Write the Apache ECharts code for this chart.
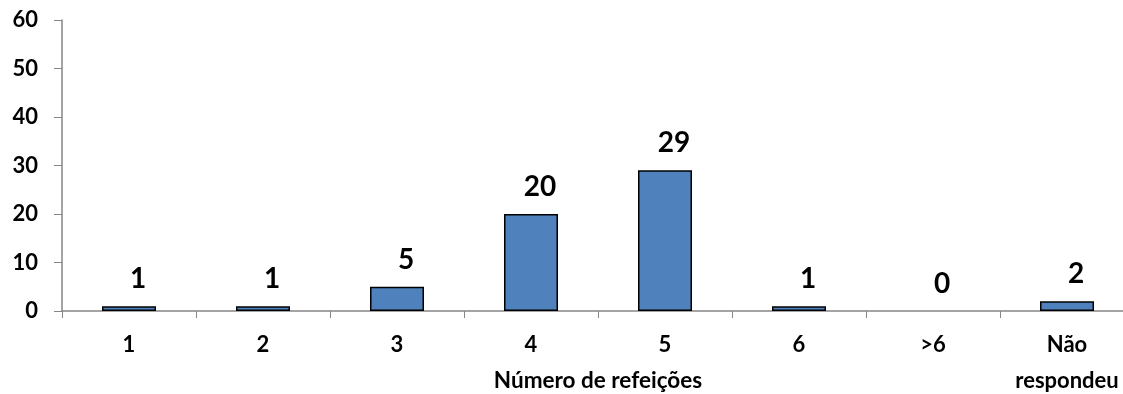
<!DOCTYPE html>
<html>
<head>
<meta charset="utf-8">
<script src="https://cdn.jsdelivr.net/npm/echarts@6/dist/echarts.min.js"></script>
<style>
  html, body { margin: 0; padding: 0; background: #fff; }
  #chart { width: 1123px; height: 394px; }
</style>
</head>
<body>
<div id="chart"></div>
<script>
// data
const categories = ["1", "2", "3", "4", "5", "6", ">6", "Não\nrespondeu"];
const counts = [1, 1, 5, 20, 29, 1, 0, 2];
const yTicks = { min: 0, max: 60, interval: 10 };
const xTitle = "Número de refeições";

const font = "Lato, 'Open Sans', sans-serif";
const chart = echarts.init(document.getElementById("chart"));

// a zero bar gets no outline, as in the original
const barData = counts.map(v => ({
  value: v,
  itemStyle: { borderWidth: v === 0 ? 0 : 1.5 }
}));

const option = {
  animation: false,
  grid: { left: 62, right: -11, top: 20, bottom: 83, outerBoundsMode: "none", containLabel: false },
  xAxis: {
    type: "category",
    data: categories,
    name: xTitle,
    nameLocation: "middle",
    nameGap: 58,
    nameMoveOverlap: false,
    nameTextStyle: { fontFamily: font, fontWeight: "bold", fontSize: 22.5, color: "#000" },
    axisLine: { lineStyle: { color: "#868686", width: 1.5 } },
    axisTick: { show: true, length: 7, lineStyle: { color: "#868686" } },
    axisLabel: {
      fontFamily: font, fontWeight: "bold", fontSize: 22, color: "#000",
      lineHeight: 36, margin: 16, interval: 0
    }
  },
  yAxis: {
    type: "value",
    min: yTicks.min,
    max: yTicks.max,
    interval: yTicks.interval,
    splitLine: { show: false },
    axisLine: { show: true, lineStyle: { color: "#868686", width: 1.5 } },
    axisTick: { show: true, length: 8, lineStyle: { color: "#868686" } },
    axisLabel: { fontFamily: font, fontWeight: "bold", fontSize: 22, color: "#000", margin: 24 }
  },
  series: [
    {
      type: "bar",
      data: barData,
      barWidth: 54,
      itemStyle: { color: "#4F81BD", borderColor: "#000" },
      label: {
        show: true,
        position: "top",
        distance: 13,
        offset: [9, 0],
        fontFamily: font,
        fontWeight: "bold",
        fontSize: 28,
        color: "#000"
      }
    }
  ]
};

chart.setOption(option);
</script>
</body>
</html>
